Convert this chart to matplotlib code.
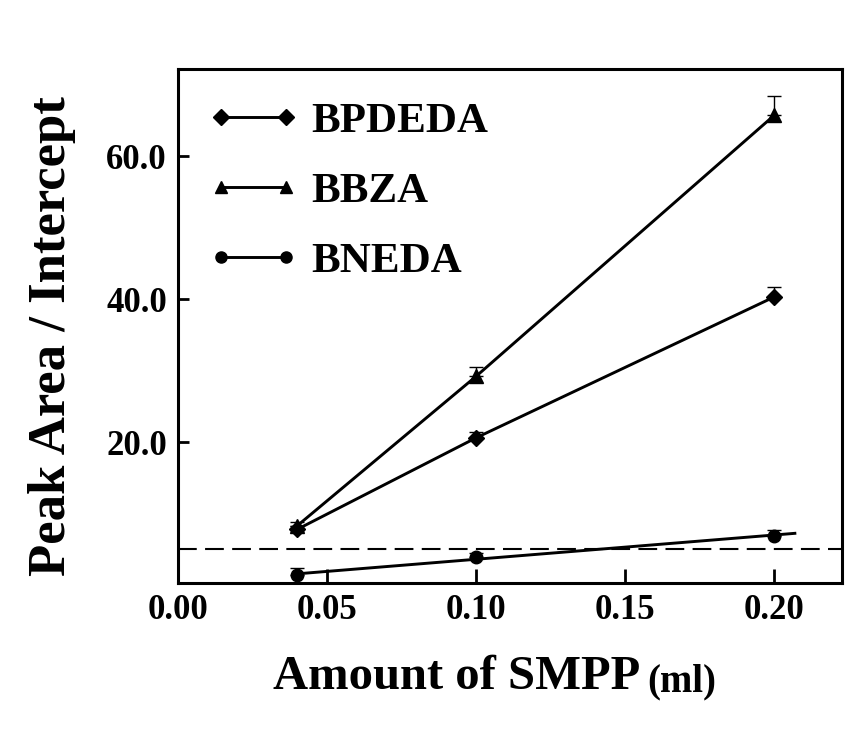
import numpy as np
import matplotlib
matplotlib.use('Agg')
import matplotlib.pyplot as plt
from matplotlib.lines import Line2D

# amount of SMPP (ml)
smpp = [0.04, 0.10, 0.20]

# peak area / intercept, with upper error
bpdeda = [7.8, 20.6, 40.3]
bpdeda_err = [0.5, 0.8, 1.4]
bbza = [8.3, 29.2, 65.7]
bbza_err = [0.5, 1.3, 2.7]
bneda = [1.4, 3.9, 6.9]
bneda_err = [1.0, 0.6, 0.8]

threshold = 5.0

xticks = [0.00, 0.05, 0.10, 0.15, 0.20]
yticks = [20.0, 40.0, 60.0]


def main():
    plt.rcParams['font.family'] = 'Liberation Serif'
    plt.rcParams['font.weight'] = 'bold'
    fig = plt.figure(figsize=(8.6, 7.32), dpi=100)
    ax = fig.add_axes([0.207, 0.2036, 0.772, 0.7021])

    x = np.array(smpp)
    lw = 2.1
    ax.errorbar(x, bpdeda, yerr=[np.zeros(3), bpdeda_err], fmt='-', marker='D',
                ms=8, color='black', lw=lw, elinewidth=1, capsize=5, capthick=1)
    ax.errorbar(x, bbza, yerr=[np.zeros(3), bbza_err], fmt='-', marker='^',
                ms=10, color='black', lw=lw, elinewidth=1, capsize=5, capthick=1)
    # BNEDA drawn as a fitted line running a bit past the last point
    ax.errorbar(x, bneda, yerr=[np.zeros(3), bneda_err], fmt='none',
                color='black', elinewidth=1, capsize=5, capthick=1)
    k, b = np.polyfit(x, bneda, 1)
    xf = np.array([x[0], 0.207])
    ax.plot(xf, k * xf + b, '-', color='black', lw=lw)
    ax.plot(x, bneda, 'o', ms=9, color='black')

    ax.axhline(threshold, color='black', lw=1.5, dashes=(9, 4))

    ax.set_xlim(0, 0.2228)
    ax.set_ylim(0.3, 72.2)
    ax.set_xticks(xticks)
    ax.set_xticklabels(['%.2f' % t for t in xticks])
    ax.set_yticks(yticks)
    ax.set_yticklabels(['%.1f' % t for t in yticks])
    ax.tick_params(axis='x', direction='in', length=10, width=2, labelsize=25, pad=8)
    ax.tick_params(axis='y', direction='in', length=8, width=2, labelsize=25, pad=8)
    for s in ax.spines.values():
        s.set_linewidth(2.2)

    ax.set_ylabel('Peak Area / Intercept', fontsize=38, fontweight='bold', labelpad=22)
    ax.yaxis.label.set_position((0, 0.48))
    ax.set_xlabel('Amount of SMPP', fontsize=35, fontweight='bold', labelpad=20)
    # smaller unit next to the x label
    ax.xaxis.label.set_position((0.42, 0))
    fig.text(0.753, 0.056, '(ml)', fontsize=28, fontweight='bold', va='baseline', ha='left')

    handles = [Line2D([], [], color='black', lw=lw, marker='D', ms=8),
               Line2D([], [], color='black', lw=lw, marker='^', ms=9),
               Line2D([], [], color='black', lw=lw, marker='o', ms=8)]
    labels = ['BPDEDA', 'BBZA', 'BNEDA']
    leg = ax.legend(handles, labels, loc='upper left', frameon=False, numpoints=2,
                    fontsize=31, handlelength=2.1, handletextpad=0.3,
                    labelspacing=0.72, borderaxespad=0.3, bbox_to_anchor=(0.0, 0.995))
    for t in leg.get_texts():
        t.set_fontweight('bold')

    fig.savefig('out.png', dpi=100)


if __name__ == '__main__':
    main()
